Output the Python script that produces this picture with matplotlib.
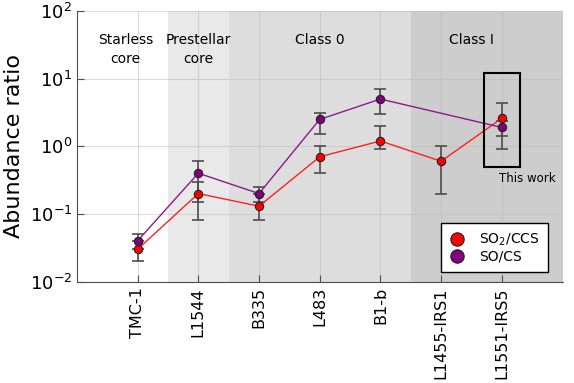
import matplotlib.pyplot as plt
import numpy as np
from matplotlib.patches import Rectangle

# Data
sources = ["TMC-1", "L1544", "B335", "L483", "B1-b", "L1455-IRS1", "L1551-IRS5"]

so2_ccs = [0.03, 0.2, 0.13, 0.7, 1.2, 0.6, 2.6]
so2_ccs_lo = [0.02, 0.08, 0.08, 0.4, 0.9, 0.2, 0.9]
so2_ccs_hi = [0.04, 0.3, 0.2, 1.0, 2.0, 1.0, 4.3]

so_cs = [0.04, 0.4, 0.2, 2.5, 5.0, 1.9]
so_cs_lo = [0.03, 0.15, 0.15, 1.5, 3.0, 1.4]
so_cs_hi = [0.05, 0.6, 0.25, 3.15, 7.0, 2.4]
so_cs_src = ["TMC-1", "L1544", "B335", "L483", "B1-b", "L1551-IRS5"]

# evolutionary stages: (label, first index, last index, shade)
stages = [("Starless\ncore", 1, 1, "white"),
          ("Prestellar\ncore", 2, 2, "#e9e9e9"),
          ("Class 0", 3, 5, "#dddddd"),
          ("Class I", 6, 7, "#cdcdcd")]

x_all = np.arange(1, len(sources) + 1)
x_so = np.array([sources.index(s) + 1 for s in so_cs_src])

fig = plt.figure(figsize=(5.74, 3.83), dpi=100)
ax = fig.add_axes([0.134, 0.265, 0.846, 0.706])

for label, i0, i1, col in stages:
    ax.axvspan(i0 - 0.5 if i0 > 1 else 0, i1 + 0.5 if i1 < 7 else 8, color=col, zorder=0, lw=0)

ax.grid(True, color="#bbbbbb", alpha=0.5, lw=0.8, zorder=1)

ax.errorbar(x_all, so2_ccs,
            yerr=[np.array(so2_ccs) - np.array(so2_ccs_lo), np.array(so2_ccs_hi) - np.array(so2_ccs)],
            fmt="none", ecolor="0.3", elinewidth=1.2, capsize=4, capthick=1.2, zorder=2)
ax.errorbar(x_so, so_cs,
            yerr=[np.array(so_cs) - np.array(so_cs_lo), np.array(so_cs_hi) - np.array(so_cs)],
            fmt="none", ecolor="0.3", elinewidth=1.2, capsize=4, capthick=1.2, zorder=2)

ax.plot(x_all, so2_ccs, color="#ff2020", lw=1, zorder=3)
ax.plot(x_so, so_cs, color="#8b1a8b", lw=1, zorder=3)
ax.plot(x_all, so2_ccs, "o", ms=6, mfc="red", mec="#222222", mew=0.8, zorder=4, label="SO$_2$/CCS")
ax.plot(x_so, so_cs, "o", ms=6, mfc="purple", mec="#222222", mew=0.8, zorder=4, label="SO/CS")

ax.set_yscale("log")
ax.set_ylim(1e-2, 1e2)
ax.set_xlim(0, 8)
ax.set_xticks(x_all)
ax.set_xticklabels(sources, rotation=90, fontsize=11.5)
ax.set_yticks([1e-2, 1e-1, 1e0, 1e1, 1e2])
ax.minorticks_off()
ax.tick_params(axis="y", labelsize=13, direction="in", length=5, color="0.3")
ax.tick_params(axis="x", direction="in", length=5, color="0.3", pad=4)
ax.set_ylabel("Abundance ratio", fontsize=16)
for s in ["top", "right"]:
    ax.spines[s].set_visible(False)
for s in ["left", "bottom"]:
    ax.spines[s].set_color("0.3")

stage_x = [0.8, 2.0, 4.0, 6.5]
for (label, i0, i1, col), sx in zip(stages, stage_x):
    ax.text(sx, 38 if "\n" not in label else 27, label, ha="center",
            va="center", fontsize=10, linespacing=1.5)

ax.add_patch(Rectangle((6.7, 0.5), 0.6, 11.5, fill=False, ec="black", lw=1.5, zorder=5))
ax.text(6.95, 0.33, "This work", fontsize=8.5, ha="left", va="center")

ax.legend(loc="lower right", bbox_to_anchor=(0.985, 0.01), fontsize=10,
          frameon=True, fancybox=False, edgecolor="black", framealpha=1,
          markerscale=1.6, handlelength=1.2, handletextpad=1.0,
          labelspacing=0.1, borderpad=0.6)

plt.savefig("out.png", dpi=100)
